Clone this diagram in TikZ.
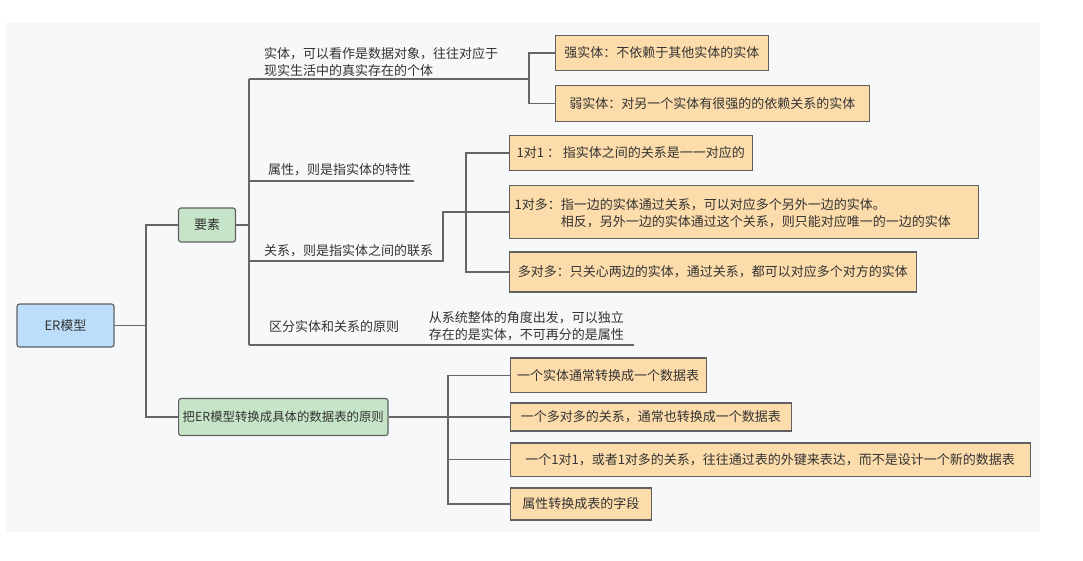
\documentclass[tikz,border=0pt]{standalone}
\usepackage{fontspec}
\setmainfont{Noto Sans CJK SC}
\definecolor{bgc}{HTML}{F7F8F9}
\definecolor{lnc}{HTML}{666666}
\definecolor{boxc}{HTML}{606060}
\definecolor{orangef}{HTML}{FDDCAB}
\definecolor{greenf}{HTML}{C6E5C8}
\definecolor{bluef}{HTML}{BDDEFA}
\definecolor{txtc}{HTML}{333333}
\begin{document}
\begin{tikzpicture}[x=1pt,y=-1pt,
  every node/.style={text=txtc, font=\fontsize{13}{17}\selectfont},
  ln/.style={draw=lnc, line width=1.2pt},
  bbox/.style={draw=boxc, fill=bluef, line width=1.1pt, rounded corners=2.5pt, inner sep=0pt},
  gbox/.style={draw=boxc, fill=greenf, line width=1.1pt, rounded corners=2.5pt, inner sep=0pt},
  obox/.style={draw=boxc, fill=orangef, line width=1.1pt, inner sep=0pt, anchor=west},
  lab/.style={inner sep=0pt, anchor=west, align=left}
]
\useasboundingbox (0,0) rectangle (1083,560);
\fill[bgc] (6,23) rectangle (1040,532);

% main nodes
\node[bbox, minimum width=97pt, minimum height=43pt] (er) at (65.5,325.5) {ER模型};
\node[gbox, minimum width=57pt, minimum height=34pt] (ys) at (207,225) {要素};
\node[gbox, minimum width=209.4pt, minimum height=37pt, font=\fontsize{12.4}{16}\selectfont] (ba) at (283.3,417) {把ER模型转换成具体的数据表的原则};

% orange boxes
\node[obox, minimum width=213.5pt, minimum height=35pt] (strong) at (554.5,53) {强实体：不依赖于其他实体的实体};
\node[obox, minimum width=314.5pt, minimum height=36pt] (weak) at (554.5,103.5) {弱实体：对另一个实体有很强的的依赖关系的实体};
\node[obox, minimum width=243.4pt, minimum height=35pt] (r1) at (508.6,153) {1对1 ： 指实体之间的关系是一一对应的};
\node[obox, minimum width=469.4pt, minimum height=52.5pt] (r2) at (508.6,212) {};
\node[lab] (r2t) at (514.5,213.5) {1对多：指一边的实体通过关系，可以对应多个另外一边的实体。\\\phantom{1对多：}相反，另外一边的实体通过这个关系，则只能对应唯一的一边的实体};
\node[obox, minimum width=407.4pt, minimum height=40pt] (r3) at (508.6,272) {多对多：只关心两边的实体，通过关系，都可以对应多个对方的实体};

\node[obox, minimum width=196pt, minimum height=34.4pt] (ta) at (509.6,375.2) {一个实体通常转换成一个数据表};
\node[obox, minimum width=281.4pt, minimum height=28pt] (tb) at (509.6,417) {一个多对多的关系，通常也转换成一个数据表};
\node[obox, minimum width=520pt, minimum height=33.5pt] (tc) at (509.6,459.7) {一个1对1，或者1对多的关系，往往通过表的外键来表达，而不是设计一个新的数据表};
\node[obox, minimum width=141.4pt, minimum height=32pt] (td) at (509.6,504) {属性转换成表的字段};

% labels
\node[lab] (ent) at (264,62.5) {实体，可以看作是数据对象，往往对应于\\现实生活中的真实存在的个体};
\node[lab] (attr) at (268,170) {属性，则是指实体的特性};
\node[lab] (rel) at (264,251) {关系，则是指实体之间的联系};
\node[lab] (dist) at (269,327) {区分实体和关系的原则};
\node[lab, font=\fontsize{13}{16.5}\selectfont] (distt) at (428.6,326.3) {从系统整体的角度出发，可以独立\\存在的是实体，不可再分的是属性};

% coordinates
\coordinate (erx) at (146,325.5);
\coordinate (ysx) at (146,225);
\coordinate (bax) at (146,417);
\coordinate (t0) at (249,225);
\coordinate (t1) at (249,79);
\coordinate (t2) at (249,181);
\coordinate (t3) at (249,261);
\coordinate (t4) at (249,345);
\coordinate (u1) at (529,79);
\coordinate (u2) at (414,181);
\coordinate (u3) at (443,261);
\coordinate (u4) at (634,345);
\coordinate (rb) at (466,0);
\coordinate (tbx) at (448,0);

% connectors
\draw[ln] (er.east) -- (erx);
\draw[ln] (ys.west) -- (ysx) -- (bax) -- (ba.west);
\draw[ln] (ys.east) -- (t0);
\draw[ln] (t1) -- (t4);
\draw[ln] (t1) -- (u1);
\draw[ln] (t2) -- (u2);
\draw[ln] (t3) -- (u3) -- (u3 |- r2.west) -- (r2.west);
\draw[ln] (t4) -- (u4);
\draw[ln] (strong.west) -- (strong.west -| u1) -- (weak.west -| u1) -- (weak.west);
\draw[ln] (r1.west) -- (r1.west -| rb) -- (r3.west -| rb) -- (r3.west);
\draw[ln] (ba.east) -- (tb.west);
\draw[ln] (ta.west) -- (ta.west -| tbx) -- (td.west -| tbx) -- (td.west);
\draw[ln] (tc.west) -- (tc.west -| tbx);
\end{tikzpicture}
\end{document}
